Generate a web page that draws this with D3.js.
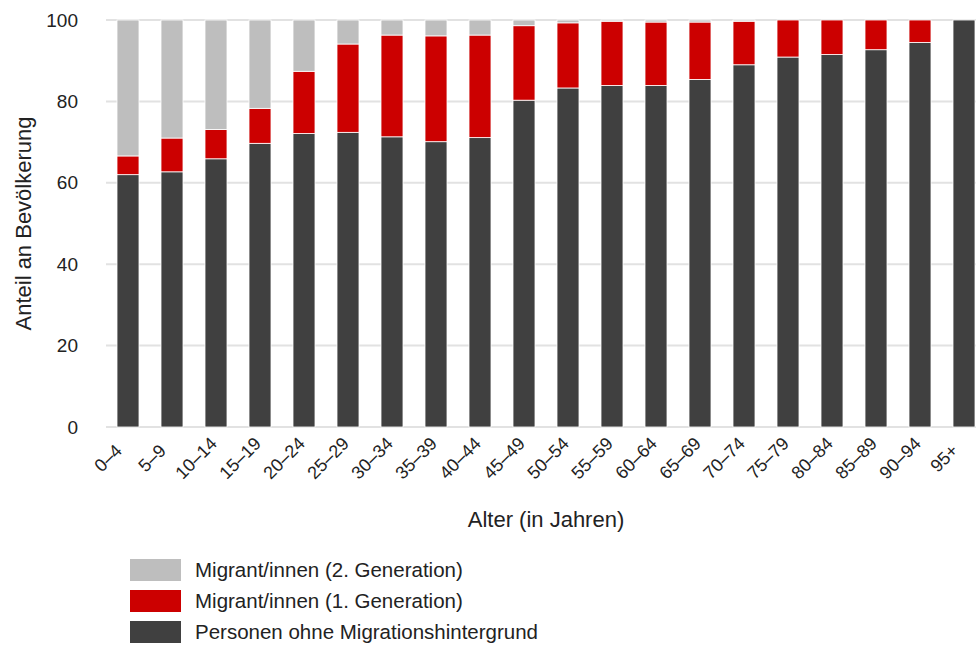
<!DOCTYPE html>
<html>
<head>
<meta charset="utf-8">
<script src="https://cdn.jsdelivr.net/npm/d3@7"></script>
<style>
  body { margin: 0; background: #fff; }
  svg text { font-family: 'Liberation Sans', Arial, sans-serif; fill: #222; }
</style>
</head>
<body>
<div id="chartContainer"></div>
<script>
const categories = ['0–4', '5–9', '10–14', '15–19', '20–24', '25–29', '30–34', '35–39', '40–44', '45–49',
    '50–54', '55–59', '60–64', '65–69', '70–74', '75–79', '80–84', '85–89', '90–94', '95+'];
const ohneMigration = [62.0, 62.7, 65.9, 69.7, 72.1, 72.4, 71.3, 70.1, 71.1, 80.3,
    83.3, 83.9, 83.9, 85.4, 89.0, 90.9, 91.5, 92.7, 94.5, 100];
const generation1 = [4.6, 8.3, 7.2, 8.6, 15.3, 21.7, 25.0, 26.0, 25.2, 18.3,
    16.0, 15.8, 15.6, 14.1, 10.7, 9.1, 8.5, 7.3, 5.5, 0];
const generation2 = [33.4, 29.0, 26.9, 21.7, 12.6, 5.9, 3.7, 3.9, 3.7, 1.4,
    0.7, 0.3, 0.5, 0.5, 0.3, 0, 0, 0, 0, 0];
const yTicks = [0, 20, 40, 60, 80, 100];

const seriesKeys = ['ohne', 'gen1', 'gen2'];
const seriesNames = {
    gen2: 'Migrant/innen (2. Generation)',
    gen1: 'Migrant/innen (1. Generation)',
    ohne: 'Personen ohne Migrationshintergrund',
};
const colors = { ohne: '#404040', gen1: '#cc0000', gen2: '#bebebe' };

const rows = categories.map((c, i) => ({ label: c, ohne: ohneMigration[i], gen1: generation1[i], gen2: generation2[i] }));

const svgWidth = 976;
const svgHeight = 645;
const margin = { top: 20, right: 0, bottom: 218, left: 106 };
const chartWidth = svgWidth - margin.left - margin.right;
const chartHeight = svgHeight - margin.top - margin.bottom;

const svg = d3.select('#chartContainer').append('svg').attr('width', svgWidth).attr('height', svgHeight);
const chart = svg.append('g').attr('transform', `translate(${margin.left}, ${margin.top})`);

const xScale = d3.scaleBand()
    .domain(categories)
    .range([0, 880])
    .paddingInner(0.5)
    .paddingOuter(0.25);

const yScale = d3.scaleLinear().domain([0, 100]).range([chartHeight, 0]);

// gridlines
chart.append('g')
    .selectAll('line')
    .data(yTicks)
    .enter()
    .append('line')
    .attr('x1', 0)
    .attr('x2', chartWidth)
    .attr('y1', (d) => yScale(d))
    .attr('y2', (d) => yScale(d))
    .attr('stroke', '#e2e2e2')
    .attr('stroke-width', 2);

const stacked = d3.stack().keys(seriesKeys)(rows);

chart.selectAll('.layer')
    .data(stacked)
    .enter()
    .append('g')
    .attr('class', 'layer')
    .attr('fill', (d) => colors[d.key])
    .selectAll('rect')
    .data((d) => d.filter((p) => p[1] - p[0] > 0))
    .enter()
    .append('rect')
    .attr('x', (d) => xScale(d.data.label))
    .attr('y', (d) => yScale(d[1]))
    .attr('width', xScale.bandwidth())
    .attr('height', (d) => yScale(d[0]) - yScale(d[1]))
    .attr('stroke', '#fff')
    .attr('stroke-width', 0.8);

// y axis labels
const yAxis = d3.axisLeft(yScale).tickValues(yTicks).tickSize(0).tickPadding(28);
chart.append('g')
    .attr('class', 'y-axis')
    .call(yAxis)
    .call((g) => g.select('.domain').remove())
    .selectAll('text')
    .style('font-size', '19px')
    .style('font-family', "'Liberation Sans', Arial, sans-serif")
    .attr('fill', '#222');

// x axis labels, centred and turned 45 degrees
chart.append('g')
    .attr('class', 'x-axis')
    .selectAll('text')
    .data(categories)
    .enter()
    .append('text')
    .attr('transform', (d) => `translate(${xScale(d) + xScale.bandwidth() / 2 - 20}, ${chartHeight + 31}) rotate(-45)`)
    .attr('text-anchor', 'middle')
    .attr('dy', '0.35em')
    .style('font-size', '18px')
    .text((d) => d);

chart.append('text')
    .attr('x', 440)
    .attr('y', chartHeight + 100)
    .attr('text-anchor', 'middle')
    .style('font-size', '22px')
    .text('Alter (in Jahren)');

chart.append('text')
    .attr('transform', 'rotate(-90)')
    .attr('x', -203.5)
    .attr('y', -margin.left + 31)
    .attr('text-anchor', 'middle')
    .style('font-size', '22px')
    .text('Anteil an Bevölkerung');

// legend
const legendKeys = ['gen2', 'gen1', 'ohne'];
const legend = svg.append('g').attr('transform', 'translate(130, 559)');
const items = legend.selectAll('g')
    .data(legendKeys)
    .enter()
    .append('g')
    .attr('transform', (d, i) => `translate(0, ${i * 31})`);
items.append('rect')
    .attr('width', 51)
    .attr('height', 22)
    .attr('fill', (d) => colors[d]);
items.append('text')
    .attr('x', 65)
    .attr('y', 18)
    .style('font-size', '20.5px')
    .text((d) => seriesNames[d]);
</script>
</body>
</html>
